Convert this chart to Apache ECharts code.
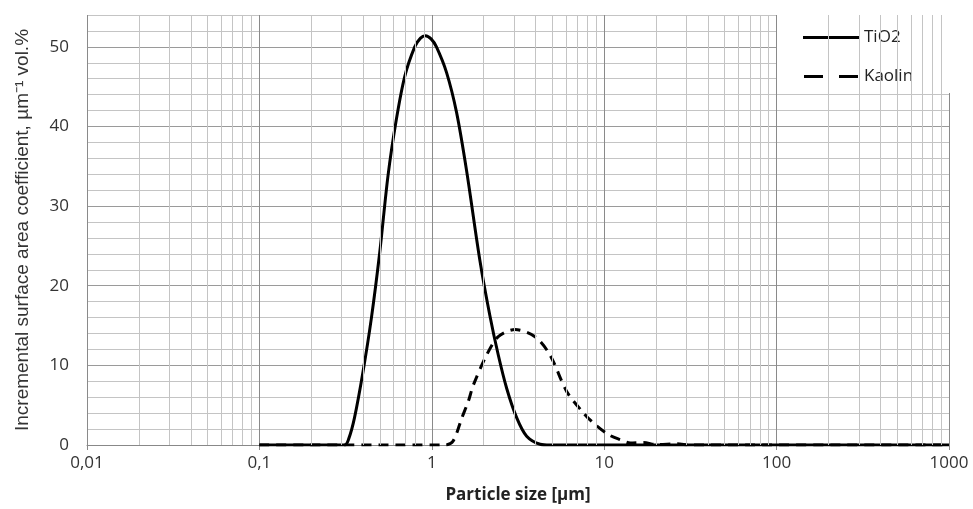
<!DOCTYPE html>
<html>
<head>
<meta charset="utf-8">
<title>Particle size</title>
<script src="https://cdn.jsdelivr.net/npm/echarts@6/dist/echarts.min.js"></script>
<style>
    html,body{margin:0;padding:0;background:#fff;}
    #chart{width:973px;height:509px;}
</style>
</head>
<body>
<div id="chart"></div>
<script>
/*TiO2 曲线数据 (粒径 µm / 数值)*/
var tio2Size  = [0.1, 0.312, 0.33, 0.356, 0.399, 0.446, 0.499, 0.557, 0.623, 0.697, 0.796, 0.86, 0.919, 0.99, 1.064, 1.217, 1.391, 1.59, 1.9, 2.17, 2.43, 2.72, 3.11, 3.55, 4.25, 4.85, 1000];
var tio2Value = [0, 0, 0.8, 3.4, 9.2, 15.9, 24.2, 33.8, 40.9, 46.3, 50.0, 51.1, 51.4, 51.0, 50.0, 46.8, 41.8, 34.5, 23.2, 16.3, 11.3, 7.1, 3.4, 1.1, 0.1, 0, 0];

/*Kaolin 曲线数据*/
var kaolinSize  = [0.1, 1.2, 1.33, 1.5, 1.63, 1.74, 2.08, 2.43, 3.04, 3.97, 4.85, 6.07, 7.6, 8.67, 10.6, 12.4, 14.2, 16.9, 20.2, 26.5, 31.6, 1000];
var kaolinValue = [0, 0, 0.5, 3.5, 5.5, 7.5, 11.3, 13.6, 14.5, 13.6, 11.3, 6.7, 4.0, 2.75, 1.3, 0.67, 0.25, 0.3, 0.05, 0.15, 0, 0];

/*坐标轴*/
var xDecades = [0.01, 0.1, 1, 10, 100, 1000];
var yTicks = [0, 10, 20, 30, 40, 50];
var seriesNames = ['TiO2', 'Kaolin'];

function pairs(xs, ys){
    var out = [];
    for(var i = 0; i < xs.length; i++){
        out.push([xs[i], ys[i]]);
    }
    return out;
}

/*对数网格的次网格线 2..9*/
var minorLines = [];
for(var d = 0; d < xDecades.length - 1; d++){
    for(var k = 2; k <= 9; k++){
        minorLines.push({xAxis: +(xDecades[d] * k).toPrecision(6)});
    }
}

var fontFam = '"Open Sans", "Liberation Sans", sans-serif';
var chart = echarts.init(document.getElementById('chart'));
var option = {
    animation: false,
    backgroundColor: '#fff',
    grid: {left: 87, right: 24, top: 15, bottom: 62},
    legend: {
        data: [
            {name: seriesNames[0], icon: 'path://M0,0H56V3H0Z'},
            {name: seriesNames[1], icon: 'path://M0,0H19V3H0Z M35,0H54V3H35Z'}
        ],
        orient: 'vertical',
        left: 777,
        top: 15,
        itemWidth: 56,
        itemHeight: 3,
        itemGap: 22,
        padding: [14, 37, 8, 26],
        backgroundColor: '#fff',
        textStyle: {fontFamily: fontFam, fontSize: 17, color: '#222'}
    },
    xAxis: {
        type: 'log',
        logBase: 10,
        min: xDecades[0],
        max: xDecades[xDecades.length - 1],
        splitNumber: 5,
        name: 'Particle size [µm]',
        nameLocation: 'middle',
        nameGap: 42,
        nameTextStyle: {fontFamily: fontFam, fontSize: 17, fontWeight: 'bold', color: '#222'},
        axisLine: {lineStyle: {color: '#888', width: 1}},
        axisTick: {show: true, length: 5, lineStyle: {color: '#888'}},
        axisLabel: {
            margin: 10,
            fontFamily: fontFam,
            fontSize: 17,
            color: '#333',
            formatter: function(v){
                return String(+v.toPrecision(6)).replace('.', ',');
            }
        },
        splitLine: {show: true, lineStyle: {color: '#8a8a8a', width: 1}}
    },
    yAxis: {
        type: 'value',
        min: 0,
        max: 54,
        interval: 2,
        name: 'Incremental surface area coefficient, µm\u207B\u00B9 vol.%',
        nameLocation: 'middle',
        nameGap: 55,
        nameTextStyle: {fontFamily: '"Liberation Sans", Arial, sans-serif', fontSize: 19, color: '#333'},
        axisLine: {show: false},
        axisTick: {show: false},
        axisLabel: {
            margin: 18,
            fontFamily: fontFam,
            fontSize: 17,
            color: '#333',
            formatter: function(v){
                return yTicks.indexOf(v) !== -1 ? String(v) : '';
            }
        },
        splitLine: {show: true, lineStyle: {color: ['#9a9a9a', '#c4c4c4', '#c4c4c4', '#c4c4c4', '#c4c4c4'], width: 1}}
    },
    series: [
        {
            name: 'grid',
            type: 'line',
            data: [[1, 0]],
            showSymbol: false,
            symbol: 'none',
            lineStyle: {opacity: 0},
            silent: true,
            z: 1,
            markLine: {
                silent: true,
                symbol: ['none', 'none'],
                label: {show: false},
                lineStyle: {color: '#c4c4c4', type: 'solid', width: 1},
                data: minorLines
            }
        },
        {
            name: seriesNames[1],
            type: 'line',
            data: pairs(kaolinSize, kaolinValue),
            symbol: 'none',
            smooth: 0.3,
            z: 3,
            lineStyle: {color: '#000', width: 3, type: [10, 7]},
            itemStyle: {color: '#000'}
        },
        {
            name: seriesNames[0],
            type: 'line',
            data: pairs(tio2Size, tio2Value),
            symbol: 'none',
            smooth: 0.3,
            z: 4,
            lineStyle: {color: '#000', width: 3},
            itemStyle: {color: '#000'}
        }
    ]
};
chart.setOption(option);
</script>
</body>
</html>
